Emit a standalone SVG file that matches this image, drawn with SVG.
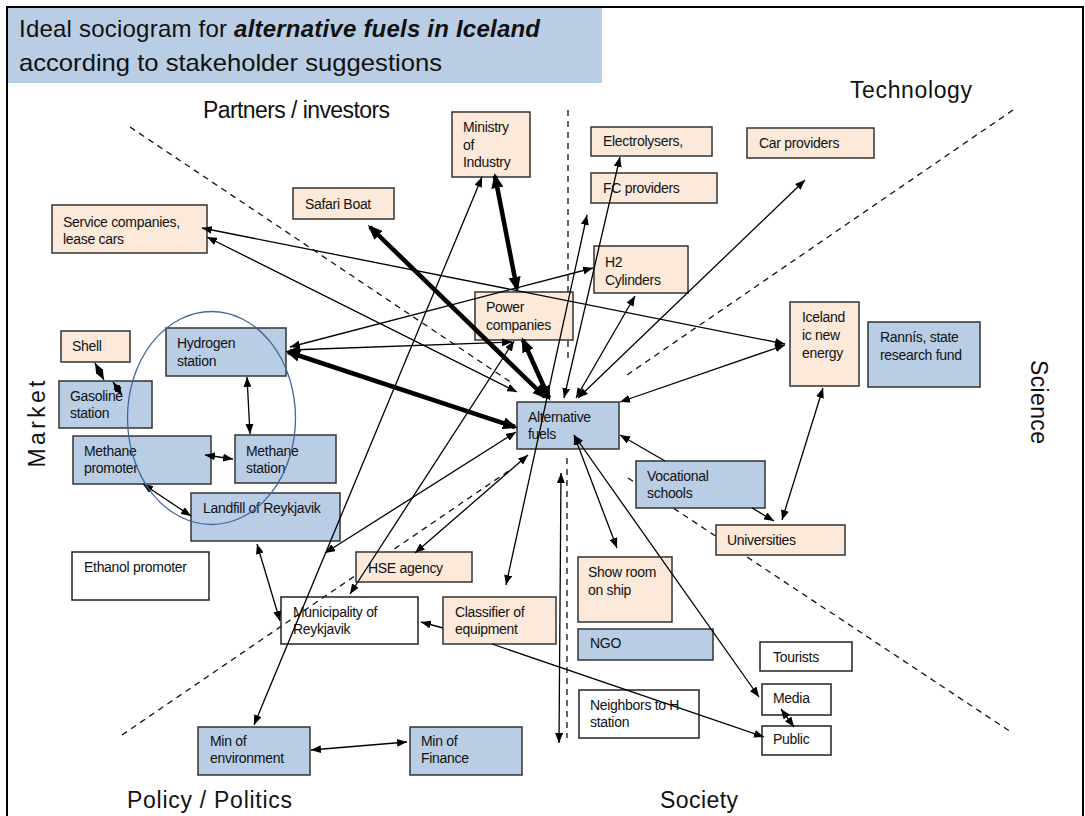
<svg xmlns="http://www.w3.org/2000/svg" width="1085" height="816" viewBox="0 0 1085 816">
<style>
text{font-family:"Liberation Sans",Arial,sans-serif;fill:#111}
.n text{font-size:14px;letter-spacing:-0.3px}
.pe{fill:#fde9d9;stroke:#333;stroke-width:1.5}
.bl{fill:#b9cde5;stroke:#333;stroke-width:1.5}
.wh{fill:none;stroke:#222;stroke-width:1.5}
.q{font-size:23px}
.d{stroke:#111;stroke-width:1.3;stroke-dasharray:6 5;fill:none}
.c line{stroke:#000;stroke-width:1.3}
.c .t{stroke-width:4.5}
.c .b{marker-start:url(#ah);marker-end:url(#ah)}
.c .s{marker-end:url(#ah)}
.c .t.b{marker-start:url(#AH);marker-end:url(#AH)}
</style>
<defs>
<marker id="ah" viewBox="0 0 10 8" refX="10" refY="4" markerWidth="10" markerHeight="8" markerUnits="userSpaceOnUse" orient="auto-start-reverse"><path d="M0,0L10,4L0,8z" fill="#000"/></marker>
<marker id="AH" viewBox="0 0 15 12" refX="12" refY="6" markerWidth="15" markerHeight="12" markerUnits="userSpaceOnUse" orient="auto-start-reverse"><path d="M0,0L15,6L0,12z" fill="#000"/></marker>
</defs>
<rect x="0" y="0" width="1085" height="816" fill="#fff"/>
<rect x="7" y="7" width="1076" height="815" fill="none" stroke="#000" stroke-width="2"/>
<g id="title">
<rect x="8" y="8" width="594" height="75" fill="#b9cde5"/>
<text x="19" y="37" font-size="24" textLength="521" lengthAdjust="spacing">Ideal sociogram for <tspan font-weight="bold" font-style="italic">alternative fuels in Iceland</tspan></text>
<text x="19" y="71" font-size="24" textLength="423" lengthAdjust="spacingAndGlyphs">according to stakeholder suggestions</text>
</g>
<g id="labels">
<text class="q" x="203" y="118" font-size="22" textLength="187">Partners / investors</text>
<text class="q" x="850" y="98" textLength="122">Technology</text>
<text class="q" x="127" y="808" textLength="165">Policy / Politics</text>
<text class="q" x="660" y="808" textLength="78">Society</text>
<text class="q" transform="translate(45,424) rotate(-90)" x="0" y="0" text-anchor="middle" font-size="27" textLength="87">Market</text>
<text class="q" transform="translate(1031,402) rotate(90)" x="0" y="0" text-anchor="middle" font-size="25" textLength="84">Science</text>
</g>
<g id="dividers">
<line class="d" x1="130" y1="127" x2="512" y2="383"/>
<line class="d" x1="1013" y1="110" x2="627" y2="375"/>
<line class="d" x1="122" y1="735" x2="510" y2="470"/>
<line class="d" x1="628" y1="478" x2="1011" y2="732"/>
<line class="d" x1="568" y1="110" x2="568" y2="358"/>
<line class="d" x1="567" y1="458" x2="567" y2="738"/>
</g>
<g class="n">
<g id="ministry"><rect class="pe" x="452" y="112" width="78" height="65"/><text x="463" y="132">Ministry</text><text x="463" y="150">of</text><text x="463" y="167">Industry</text></g>
<g id="electrolysers"><rect class="pe" x="591" y="127" width="121" height="29"/><text x="603" y="146">Electrolysers,</text></g>
<g id="fc-providers"><rect class="pe" x="591" y="173" width="126" height="30"/><text x="603" y="193">FC providers</text></g>
<g id="car-providers"><rect class="pe" x="747" y="128" width="127" height="30"/><text x="759" y="148">Car providers</text></g>
<g id="safari-boat"><rect class="pe" x="293" y="188" width="101" height="31"/><text x="305" y="209">Safari Boat</text></g>
<g id="service-companies"><rect class="pe" x="52" y="205" width="155" height="48"/><text x="63" y="227">Service companies,</text><text x="63" y="244">lease cars</text></g>
<g id="h2-cylinders"><rect class="pe" x="594" y="246" width="94" height="47"/><text x="605" y="267">H2</text><text x="605" y="285">Cylinders</text></g>
<g id="power-companies"><rect class="pe" x="475" y="292" width="98" height="48"/><text x="486" y="312">Power</text><text x="486" y="330">companies</text></g>
<g id="iceland-new-energy"><rect class="pe" x="790" y="302" width="69" height="84"/><text x="802" y="322">Iceland</text><text x="802" y="340">ic new</text><text x="802" y="358">energy</text></g>
<g id="rannis"><rect class="bl" x="868" y="322" width="112" height="65"/><text x="880" y="342">Rannís, state</text><text x="880" y="360">research fund</text></g>
<g id="shell"><rect class="pe" x="61" y="331" width="69" height="31"/><text x="72" y="351">Shell</text></g>
<g id="hydrogen-station"><rect class="bl" x="166" y="328" width="120" height="48"/><text x="177" y="348">Hydrogen</text><text x="177" y="366">station</text></g>
<g id="gasoline-station"><rect class="bl" x="59" y="381" width="93" height="47"/><text x="70" y="401">Gasoline</text><text x="70" y="418">station</text></g>
<g id="methane-promoter"><rect class="bl" x="73" y="436" width="138" height="48"/><text x="84" y="456">Methane</text><text x="84" y="473">promoter</text></g>
<g id="methane-station"><rect class="bl" x="235" y="435" width="101" height="48"/><text x="246" y="456">Methane</text><text x="246" y="473">station</text></g>
<g id="landfill"><rect class="bl" x="191" y="493" width="149" height="48"/><text x="203" y="513">Landfill of Reykjavik</text></g>
<g id="ethanol-promoter"><rect class="wh" x="72" y="552" width="137" height="48"/><text x="84" y="572">Ethanol promoter</text></g>
<g id="municipality"><rect class="wh" x="281" y="597" width="137" height="47"/><text x="293" y="617">Municipality of</text><text x="293" y="634">Reykjavik</text></g>
<g id="hse-agency"><rect class="pe" x="356" y="552" width="116" height="30"/><text x="368" y="573">HSE agency</text></g>
<g id="classifier"><rect class="pe" x="443" y="597" width="113" height="47"/><text x="455" y="617">Classifier of</text><text x="455" y="634">equipment</text></g>
<g id="alternative-fuels"><rect class="bl" x="517" y="402" width="102" height="47"/><text x="528" y="422">Alternative</text><text x="528" y="439">fuels</text></g>
<g id="vocational-schools"><rect class="bl" x="636" y="461" width="129" height="47"/><text x="647" y="481">Vocational</text><text x="647" y="498">schools</text></g>
<g id="universities"><rect class="pe" x="716" y="525" width="129" height="30"/><text x="727" y="545">Universities</text></g>
<g id="show-room"><rect class="pe" x="578" y="557" width="94" height="65"/><text x="588" y="577">Show room</text><text x="588" y="595">on ship</text></g>
<g id="ngo"><rect class="bl" x="578" y="629" width="135" height="31"/><text x="590" y="648">NGO</text></g>
<g id="tourists"><rect class="wh" x="760" y="642" width="92" height="29"/><text x="773" y="662">Tourists</text></g>
<g id="media"><rect class="wh" x="762" y="684" width="69" height="31"/><text x="773" y="703">Media</text></g>
<g id="public"><rect class="wh" x="762" y="726" width="69" height="29"/><text x="773" y="744">Public</text></g>
<g id="neighbors"><rect class="wh" x="579" y="690" width="120" height="48"/><text x="590" y="710">Neighbors to H</text><text x="590" y="727">station</text></g>
<g id="min-environment"><rect class="bl" x="198" y="727" width="112" height="48"/><text x="210" y="746">Min of</text><text x="210" y="763">environment</text></g>
<g id="min-finance"><rect class="bl" x="410" y="727" width="112" height="48"/><text x="421" y="746">Min of</text><text x="421" y="763">Finance</text></g>
</g>
<g id="connectors" class="c">
<line class="b" x1="254" y1="725" x2="482" y2="177"/>
<line class="b" x1="202" y1="228" x2="785" y2="344"/>
<line class="b" x1="207" y1="237" x2="517" y2="392"/>
<line class="b" x1="290" y1="347" x2="593" y2="268"/>
<line class="b" x1="290" y1="350" x2="512" y2="342"/>
<line class="b" x1="514" y1="341" x2="350" y2="594"/>
<line class="b" x1="620" y1="157" x2="564" y2="398"/>
<line class="b" x1="587" y1="215" x2="506" y2="585"/>
<line class="b" x1="805" y1="180" x2="578" y2="398"/>
<line class="b" x1="635" y1="296" x2="576" y2="398"/>
<line class="b" x1="620" y1="402" x2="785" y2="345"/>
<line class="b" x1="823" y1="388" x2="782" y2="520"/>
<line class="b" x1="574" y1="435" x2="617" y2="548"/>
<line class="b" x1="574" y1="435" x2="759" y2="697"/>
<line class="b" x1="781" y1="709" x2="794" y2="727"/>
<line class="b" x1="528" y1="455" x2="415" y2="553"/>
<line class="b" x1="516" y1="432" x2="325" y2="553"/>
<line class="b" x1="561" y1="473" x2="559" y2="743"/>
<line class="b" x1="257" y1="544" x2="280" y2="621"/>
<line class="b" x1="311" y1="750" x2="407" y2="742"/>
<line class="b" x1="205" y1="455" x2="233" y2="459"/>
<line class="b" x1="143" y1="484" x2="191" y2="516"/>
<line class="b" x1="247" y1="377" x2="250" y2="434"/>
<line class="b" x1="95" y1="363" x2="104" y2="380"/>
<line class="b" x1="113" y1="382" x2="122" y2="395"/>
<line class="s" x1="665" y1="461" x2="620" y2="435"/>
<line class="s" x1="752" y1="508" x2="774" y2="521"/>
<line class="s" x1="492" y1="644" x2="764" y2="737"/>
<line class="s" x1="443" y1="628" x2="421" y2="622"/>
<line class="t b" x1="495" y1="176" x2="517" y2="289"/>
<line class="t b" x1="370" y1="227" x2="545" y2="397"/>
<line class="t b" x1="288" y1="352" x2="515" y2="427"/>
<line class="t b" x1="523" y1="340" x2="549" y2="398"/>
</g>
<ellipse id="group-ellipse" cx="211.5" cy="418" rx="84" ry="106.5" fill="none" stroke="#41699f" stroke-width="1.3"/>
</svg>
